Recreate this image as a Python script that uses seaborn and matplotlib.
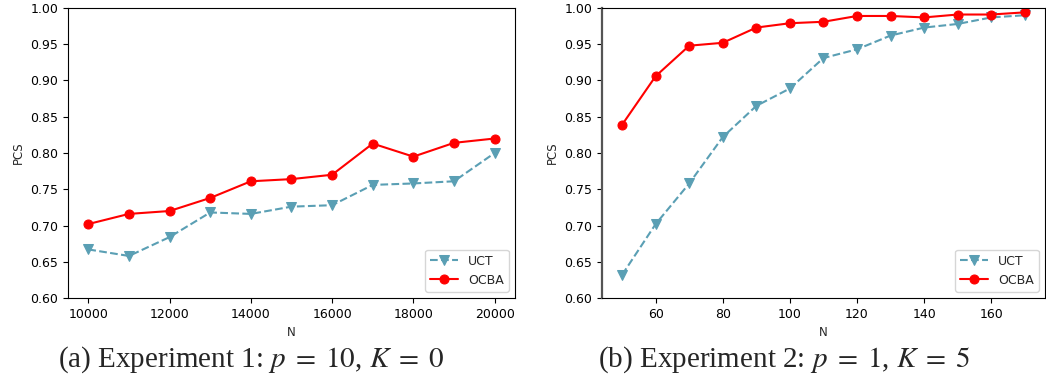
import matplotlib
matplotlib.use("Agg")
import matplotlib.pyplot as plt
import seaborn as sns
import pandas as pd

# Experiment 1 data
n_exp1 = [10000, 11000, 12000, 13000, 14000, 15000, 16000, 17000, 18000, 19000, 20000]
uct_exp1 = [0.667, 0.658, 0.684, 0.718, 0.716, 0.726, 0.728, 0.756, 0.758, 0.761, 0.800]
ocba_exp1 = [0.702, 0.716, 0.720, 0.738, 0.761, 0.764, 0.770, 0.813, 0.795, 0.814, 0.820]

# Experiment 2 data
n_exp2 = [50, 60, 70, 80, 90, 100, 110, 120, 130, 140, 150, 160, 170]
uct_exp2 = [0.632, 0.702, 0.758, 0.822, 0.865, 0.889, 0.931, 0.943, 0.962, 0.973, 0.978, 0.987, 0.990]
ocba_exp2 = [0.839, 0.906, 0.948, 0.952, 0.973, 0.979, 0.981, 0.989, 0.989, 0.987, 0.991, 0.991, 0.994]

yticks = [0.60, 0.65, 0.70, 0.75, 0.80, 0.85, 0.90, 0.95, 1.00]
captions = [r"(a) Experiment 1: $p\;=\;10$, $K\;=\;0$", r"(b) Experiment 2: $p\;=\;1$, $K\;=\;5$"]

sns.set_theme(style="ticks")
plt.rcParams["font.family"] = ["DejaVu Sans"]
plt.rcParams["axes.edgecolor"] = "black"
plt.rcParams["xtick.color"] = "black"
plt.rcParams["ytick.color"] = "black"
plt.rcParams["mathtext.fontset"] = "stix"

UCT_COLOR = "#5a9fb4"
OCBA_COLOR = "#ff0000"

fig = plt.figure(figsize=(10.46, 3.79), dpi=100)
ax1 = fig.add_axes([0.065, 0.2137, 0.4273, 0.7652])
ax2 = fig.add_axes([0.5755, 0.2137, 0.4235, 0.7652])

def draw(ax, n, uct, ocba, xticks):
    df_u = pd.DataFrame({"N": n, "PCS": uct})
    df_o = pd.DataFrame({"N": n, "PCS": ocba})
    sns.lineplot(data=df_u, x="N", y="PCS", ax=ax, color=UCT_COLOR, marker="v",
                 markersize=7, markeredgecolor=UCT_COLOR, linestyle="--", linewidth=1.5, label="UCT")
    sns.lineplot(data=df_o, x="N", y="PCS", ax=ax, color=OCBA_COLOR, marker="o",
                 markersize=6.5, markeredgecolor=OCBA_COLOR, linestyle="-", linewidth=1.5, label="OCBA")
    ax.set_ylim(0.60, 1.00)
    ax.set_yticks(yticks)
    ax.set_yticklabels([f"{v:.2f}" for v in yticks])
    ax.set_xticks(xticks)
    ax.tick_params(labelsize=9, length=3.5, width=0.8)
    ax.set_xlabel("N", fontsize=8.5)
    ax.set_ylabel("PCS", fontsize=8.5)
    for s in ax.spines.values():
        s.set_visible(True)
        s.set_linewidth(0.8)
        s.set_color("black")
    leg = ax.legend(loc="lower right", fontsize=9, frameon=True, handlelength=2.2)
    leg.get_frame().set_edgecolor("#cccccc")

draw(ax1, n_exp1, uct_exp1, ocba_exp1, [10000, 12000, 14000, 16000, 18000, 20000])
ax1.set_xlim(9500, 20500)
draw(ax2, n_exp2, uct_exp2, ocba_exp2, [60, 80, 100, 120, 140, 160])
ax2.set_xlim(44, 176)
ax2.spines["left"].set_color("#555555")
ax2.spines["left"].set_linewidth(1.6)

fig.text(0.240, 0.052, captions[0], ha="center", va="center", fontsize=21,
         family=["Liberation Serif"])
fig.text(0.750, 0.052, captions[1], ha="center", va="center", fontsize=21,
         family=["Liberation Serif"])

fig.savefig("out.png", dpi=100)
